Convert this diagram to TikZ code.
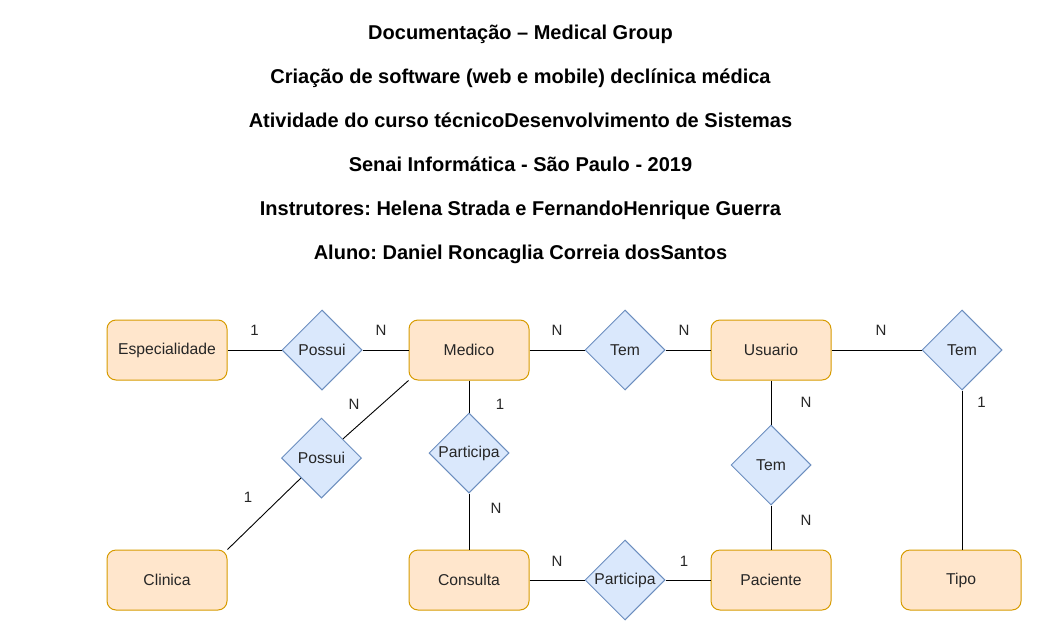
\documentclass[tikz,border=0pt]{standalone}
\usepackage{fontspec}
\setmainfont{Liberation Sans}
\usetikzlibrary{shapes.geometric,positioning}
\frenchspacing

\definecolor{laranja}{HTML}{FFE6CC}
\definecolor{bordalaranja}{HTML}{D79B00}
\definecolor{azul}{HTML}{DAE8FC}
\definecolor{bordaazul}{HTML}{6C8EBF}

\begin{document}
\begin{tikzpicture}[x=1pt,y=-1pt,
  entidade/.style={draw=bordalaranja, fill=laranja, rounded corners=9pt,
    minimum width=120pt, minimum height=60pt, inner sep=0pt, line width=1pt,
    font=\fontsize{15.7}{18}\selectfont, text=black!85},
  relacao/.style={draw=bordaazul, fill=azul, diamond, aspect=1, inner sep=0pt,
    minimum width=80pt, minimum height=80pt, line width=1pt,
    font=\fontsize{15.7}{18}\selectfont, text=black!85},
  titulo/.style={anchor=base, font=\fontsize{20}{24}\selectfont\bfseries},
  card/.style={font=\fontsize{15}{18}\selectfont, text=black!85},
  liga/.style={line width=0.9pt}]
\useasboundingbox (0,0) rectangle (1041,621);

% cabecalho
\node[titulo] (t1) at (520.5,39.5) {Documentação – Medical Group};
\node[titulo] (t2) at (520.5,83.5) {Criação de software (web e mobile) declínica médica};
\node[titulo] (t3) at (520.5,127.5) {Atividade do curso técnicoDesenvolvimento de Sistemas};
\node[titulo] (t4) at (520.5,171.5) {Senai Informática - São Paulo - 2019};
\node[titulo] (t5) at (520.5,215.5) {Instrutores: Helena Strada e FernandoHenrique Guerra};
\node[titulo] (t6) at (520.5,259.5) {Aluno: Daniel Roncaglia Correia dosSantos};

% entidades
\node[entidade] (especialidade) at (167,350) {Especialidade};
\node[entidade] (medico) at (469,350) {Medico};
\node[entidade] (usuario) at (771,350) {Usuario};
\node[entidade] (clinica) at (167,580) {Clinica};
\node[entidade] (consulta) at (469,580) {Consulta};
\node[entidade] (paciente) at (771,580) {Paciente};
\node[entidade] (tipo) at (961,580) {Tipo};

% relacionamentos
\node[relacao] (possui1) at (322,350) {Possui};
\node[relacao] (tem1) at (625,350) {Tem};
\node[relacao] (tem2) at (962,350) {Tem};
\node[relacao] (possui2) at (321.5,458) {Possui};
\node[relacao] (participa1) at (469,453) {Participa};
\node[relacao] (tem3) at (771,465) {Tem};
\node[relacao] (participa2) at (625,580) {Participa};

% ligacoes
\draw[liga] (especialidade) -- (possui1);
\draw[liga] (possui1) -- (medico);
\draw[liga] (medico) -- (tem1);
\draw[liga] (tem1) -- (usuario);
\draw[liga] (usuario) -- (tem2);
\draw[liga] (tem2.south) -- (tem2.south |- tipo.north);
\draw[liga] (medico.south west) -- (possui2);
\draw[liga] (possui2) -- (clinica.north east);
\draw[liga] (medico) -- (participa1);
\draw[liga] (participa1) -- (consulta);
\draw[liga] (usuario) -- (tem3);
\draw[liga] (tem3) -- (paciente);
\draw[liga] (consulta) -- (participa2);
\draw[liga] (participa2) -- (paciente);

% cardinalidades
\node[card] (c1) at (254.5,330) {1};
\node[card] (c2) at (381,330) {N};
\node[card] (c3) at (557,330) {N};
\node[card] (c4) at (684,330) {N};
\node[card] (c5) at (881,330) {N};
\node[card] (c6) at (354,404) {N};
\node[card] (c7) at (500,404) {1};
\node[card] (c8) at (806,402) {N};
\node[card] (c9) at (981.5,402) {1};
\node[card] (c10) at (248,497) {1};
\node[card] (c11) at (496,508) {N};
\node[card] (c12) at (806,520) {N};
\node[card] (c13) at (557,561) {N};
\node[card] (c14) at (684,561) {1};
\end{tikzpicture}
\end{document}
